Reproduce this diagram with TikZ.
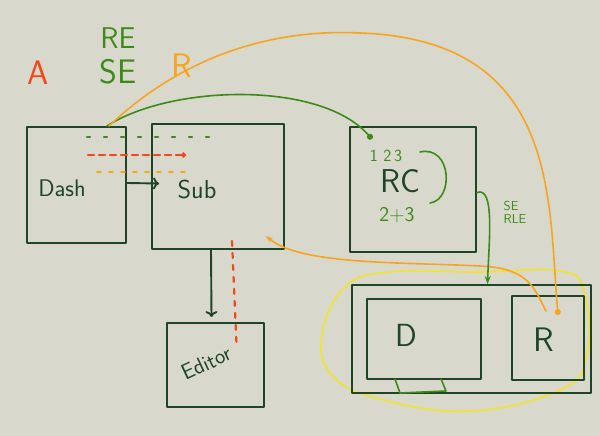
\documentclass[tikz,border=0pt]{standalone}
\usetikzlibrary{arrows.meta}
\definecolor{Ink}{HTML}{1F4527}
\definecolor{Leaf}{HTML}{3C8A17}
\definecolor{Amber}{HTML}{F7A51E}
\definecolor{Flame}{HTML}{F4471A}
\definecolor{Lemon}{HTML}{F2E42C}
\definecolor{Paper}{HTML}{D9D8CC}
\NewDocumentCommand{\Panel}{O{} m m m m}{
    \node[draw=Ink, line width=1.9pt, minimum width=#4, minimum height=#5, #1] (#2) at #3 {};
}
\NewDocumentCommand{\Hand}{m}{\sffamily\fontsize{#1}{#1}\selectfont}

\begin{document}
\begin{tikzpicture}[x=1pt, y=-1pt, line cap=round, line join=round]
\fill[Paper] (0,0) rectangle (600,436);
\useasboundingbox (0,0) rectangle (600,436);

% group loop
\draw[Lemon, line width=1.6pt] plot[smooth cycle, tension=0.7] coordinates {(322,335) (345,287) (390,272) (480,272) (560,271) (584,292) (587,355) (560,390) (470,411) (380,399) (332,375)};

\Panel{dash}{(76.5,185)}{99pt}{116pt}
\Panel{sub}{(218,186.5)}{132pt}{125pt}
\Panel{editor}{(215.5,365)}{97pt}{84pt}
\Panel{rc}{(413,189.5)}{126pt}{125pt}
\Panel{outer}{(471.5,339)}{239pt}{108pt}
\Panel{d}{(424,339)}{114pt}{80pt}
\Panel{r}{(548,338)}{72pt}{84pt}

\node[text=Ink, font=\Hand{24}] (dashtxt) at (62,188) {Dash};
\node[text=Ink, font=\Hand{26}] (subtxt) at (197,189) {Sub};
\node[text=Ink, font=\Hand{22}, rotate=25] (edtxt) at (206,363) {Editor};
\node[text=Ink, font=\Hand{33}] (rctxt) at (400,181) {RC};
\node[text=Ink, font=\Hand{32}] (dtxt) at (406,335) {D};
\node[text=Ink, font=\Hand{34}] (rtxt) at (544,340) {R};

\node[text=Flame, font=\Hand{34}] (hdra) at (38,73) {A};
\node[text=Leaf, font=\Hand{30}] (hdrre) at (118,38) {RE};
\node[text=Leaf, font=\Hand{34}] (hdrse) at (118,72) {SE};
\node[text=Amber, font=\Hand{34}] (hdrr) at (182,66) {R};

\node[text=Leaf, font=\Hand{17}] (rcnums) at (386,156) {1\,\,2\,3};
\node[text=Leaf, font=\Hand{21}] (rcsum) at (397,215) {2+3};
\draw[Leaf, line width=1.6pt] (420,152) .. controls (452,145) and (454,200) .. (430,203);
\node[text=Leaf, font=\Hand{13}, align=left] (serle) at (515,212) {SE\\RLE};

% rows across Dash and Sub
\coordinate (greenL) at (87,137);
\coordinate (greenR) at (215,137);
\coordinate (redL) at (88,155);
\coordinate (redR) at (186,155);
\coordinate (amberL) at (97,172);
\coordinate (amberR) at (190,172);
\draw[Leaf, line width=2.2pt, dash pattern=on 3pt off 14pt] (greenL) -- (greenR);
\draw[Flame, line width=2.2pt, dash pattern=on 6pt off 5pt, -{Circle[length=5pt]}] (redL) -- (redR);
\draw[Amber, line width=1.8pt, dash pattern=on 4pt off 8pt] (amberL) -- (amberR);

\draw[Ink, line width=1.9pt, -{To[length=6pt, width=12pt]}] ([yshift=2pt]dash.east) -- ([shift={(8pt,3pt)}]sub.west);
\draw[Ink, line width=1.9pt, -{To[length=6pt, width=12pt]}] ([xshift=-7pt]sub.south) -- ([shift={(-4pt,5pt)}]editor.north);
\draw[Flame, line width=2.2pt, dash pattern=on 5pt off 7pt] ([shift={(14pt,9pt)}]sub.south) -- ([shift={(21pt,-22pt)}]editor.north);

\draw[Leaf, line width=1.6pt, -{Circle[length=6pt]}] ([xshift=-20pt]dash.north east) .. controls (170,85) and (320,80) .. ([shift={(-41pt,-13pt)}]rc.north);
\draw[Amber, line width=1.6pt, -{Circle[length=6pt]}] ([xshift=-18pt]dash.north east) .. controls (200,40) and (300,30) .. (360,33) .. controls (560,40) and (548,200) .. ([shift={(10pt,-20pt)}]r.north);
\draw[Amber, line width=1.6pt, {Stealth[length=7pt]}-] ([shift={(-19pt,14pt)}]sub.south east) .. controls (300,265) and (400,262) .. (480,266) .. controls (530,268) and (535,290) .. ([shift={(35pt,-16pt)}]r.north west);
\draw[Leaf, line width=1.6pt, -{Stealth[length=8pt]}] ([yshift=-3pt]rc.east) .. controls (495,186) and (489,240) .. ([xshift=16pt]outer.north);

\draw[Leaf, line width=1.6pt] (395,379) -- (400,393) -- (446,391) -- (441,379);
\end{tikzpicture}
\end{document}
